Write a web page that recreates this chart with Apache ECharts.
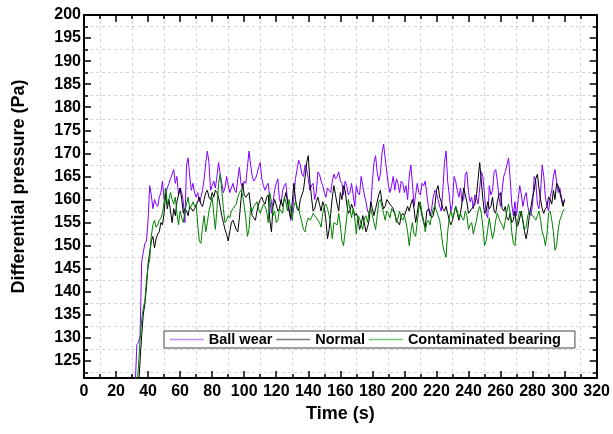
<!DOCTYPE html>
<html><head><meta charset="utf-8">
<script src="https://cdn.jsdelivr.net/npm/echarts@6/dist/echarts.min.js"></script>
<style>html,body{margin:0;padding:0;background:#fff}#c{width:613px;height:434px}</style>
</head><body><div id="c"></div>
<script>
// Sampling of the series (seconds)
const startTime = 30;
const timeStep = 1;

// Differential pressure (Pa), one value per second from t = 30 s to 300 s
const ballWear = [
110,115,120,128.5,129,130.5,146.5,148.5,150.5,151,
155.5,163,161,158,160,159,158.5,160.5,161.5,164,
160,161,162.5,163.5,164.5,165.5,166.5,163.5,165,161,
162.5,161.5,159.5,155,167.5,169,165,162,163.5,161.5,
160.5,161.5,159.5,160.5,162,164.5,168,170.5,168,162,
163,164,162.5,165,168,165.5,163.5,161.5,162.5,165,
163,161.5,162.5,163.5,162,161.5,164.5,167,163.5,162.5,
164,163.5,167,170.5,167.5,165,164,164.5,165.5,167,
168,164.5,163,162,163,163.5,160,157,159.5,162,
163.5,164.5,160,159,162,163,163.5,160,158,155.5,
157,160.5,164.5,166.5,168.5,167.5,165.5,165,167.5,166.5,
164.5,162,163,163.5,160,161.5,166,165.5,164,163,
161.5,160.5,162.5,162,161.5,164,165.5,164.5,165,166,
164,163.5,161,164,163,161,161.5,163.5,161,158.5,
163,161.5,161,165,163,161,159.5,157.5,157,158.5,
164,168,169.5,166,164,165.5,170,172,169,166,
163,161.5,163,165,162,164.5,163.5,161.5,164,163.5,
161.5,163,160,165,167.5,163.5,158.5,161,163.5,161.5,
161,163.5,163,164,161,158.5,156.5,158,160.5,162,
161.5,160,158.5,157.5,162,168,170.5,164,161,157.5,
159,165,164,162,160.5,162.5,159.5,160,165.5,166,
161.5,159.5,160.5,158,161,160.5,159,162.5,166,165,
161,157,156,163,161,162,166,166.5,164,160.5,
158.5,162,165,166,167.5,169,164.5,159,156.5,159.5,
156.5,160,163,161,158.5,160.5,161.5,158.5,157,156.5,
159,165,164,159,158,161.5,167.5,165,160.5,158.5,
157.5,160.5,162,165,166.5,164,161.5,162.5,160.5,159,
160
];
const normal = [
100,105,110,115,119,125,130.5,135,137.5,141,
146,148.5,151,152,149.5,151.5,152.5,153,155,154.5,
157,161.5,158,160,157.5,155,158,156.5,159.5,161,
162.5,160,157,158,157.5,156.5,158.5,158.5,157.5,158,
158,159.5,160.5,159,158.5,160,161.5,162,160.5,160,
161.5,160.5,162,161.5,160.5,158.5,156.5,155,153.5,152.5,
151,153,155,155.5,154.5,153.5,153,156,160,163.5,
161,160.5,161,161.5,158.5,156.5,156,155.5,157.5,159,
160,160.5,159.5,159,160.5,161,155.5,153,158.5,160,
160,157.5,158,160,158.5,160,161.5,159.5,157.5,156,
159.5,163.5,160,158,157.5,160,161,162,165,168,
169.5,164,160.5,157.5,158,159.5,160.5,159,157.5,159.5,
158.5,155.5,151.5,153.5,157,160.5,163,161,159,157.5,
161.5,160,163,162,159,157,157.5,159,158,156.5,
157,156,153.5,154.5,156.5,155,153,154,155.5,159.5,
158,156.5,158,159.5,161,162,159.5,158,158.5,160,
159.5,159,158.5,158,157,155.5,155,154.5,156.5,157,
156.5,157.5,158.5,157.5,159,160,158,155,157,159.5,
158.5,156.5,155,154,157.5,158,157,156,156.5,158.5,
162,163,160.5,159.5,158,157.5,158.5,157,155.5,154.5,
155.5,157,158.5,157,155.5,157,159.5,162.5,161,159.5,
157,157.5,158,158.5,159,161,164.5,168,164,160,
157,157.5,159.5,158,158.5,160.5,157.5,157,159.5,161,
161.5,158,157.5,158.5,156,155.5,157,155,155.5,157.5,
154,154.5,156,157.5,155,153,151.5,153.5,156.5,158.5,
160.5,162,164.5,165.5,162.5,160,158,157,158,158.5,
160.5,160,159,162,160,163.5,163,161.5,160,158.5,
160
];
const contaminated = [
100,108,114,119,124,129.5,134,136.5,138,142.5,
145.5,147,152,154.5,155.5,154,154.5,155.5,156,157,
159.5,162.5,159,160,161.5,160,159,160.5,157,154.5,
157.5,156,155,157.5,159,160.5,158,158.5,159.5,158.5,
159,154.5,151,150.5,154,156.5,153,155,157.5,159,
160.5,157,153.5,158,163.5,165.5,162,158,155,155.5,
156.5,156,157.5,158,158,159,160.5,161.5,162,161,
158.5,156,152,153.5,158.5,157.5,158.5,159,159.5,158,
157,158,159,158.5,157.5,155,161.5,159.5,156.5,157.5,
155,155.5,158,157.5,157,160.5,159.5,157.5,160,158,
155.5,158.5,159.5,158.5,158,156.5,155,153.5,153,155,
156,155.5,156,157,156.5,156,155.5,155,154,157,
158.5,159,158,156.5,154.5,151.5,155,155,154.5,157,
154.5,151,150,153,156,160,158,156,158,156,
152.5,156.5,156,154.5,153.5,156,156.5,155,157.5,158,
156.5,155,153.5,156.5,159.5,160,158.5,157,155.5,157.5,
157,156,158,158,157,155,156,157.5,156,155.5,
156.5,155,153,150,153,155,152.5,152,155,158,
159.5,157,155.5,153,155,155.5,154.5,156.5,158,158.5,
157.5,156.5,155.5,153,150,148.5,147.5,153,156,157.5,
156,157,158.5,157.5,156,157,156,155.5,157.5,156.5,
153.5,154.5,155,152.5,154,155.5,157.5,158.5,157,154,
150,151,153.5,156,153.5,151.5,153,155.5,157,156,
155,154.5,153.5,155.5,157.5,159,157,153,150.5,150,
154,156,157.5,157,155.5,153.5,154,156.5,157.5,157,
156.5,156,155.5,156.5,157.5,155.5,153,152,150,152.5,
157,157.5,155.5,153,149,150,153.5,155.5,156.5,157.5,
158
];

const seriesNames = ['Ball wear', 'Normal', 'Contaminated bearing'];
const seriesValues = [ballWear, normal, contaminated];
const seriesColors = ['#8000ff', '#000000', '#008000'];
const legendColors = ['#c48cff', '#7a7a7a', '#7cc47c'];

// Axis ranges and ticks
const xMin = 0, xMax = 320, xStep = 20;
const yMin = 121.3, yMax = 200;
const yMajorTicks = [125,130,135,140,145,150,155,160,165,170,175,180,185,190,195,200];
const yMinorTicks = [122.5,127.5,132.5,137.5,142.5,147.5,152.5,157.5,162.5,167.5,172.5,177.5,182.5,187.5,192.5,197.5];

const FONT = "'Liberation Sans', Arial, sans-serif";
const axisLineStyle = { color: '#000', width: 2 };
const tickLineStyle = { color: '#000', width: 1.5 };
const gridLineStyle = { color: '#d4d4d4', type: [3, 3], width: 1 };
const labelStyle = { fontFamily: FONT, fontWeight: 'bold', fontSize: 16, color: '#000' };

function toPairs(values) {
  return values.map((v, i) => [startTime + i * timeStep, v]);
}

const chart = echarts.init(document.getElementById('c'), null, { renderer: 'canvas' });

function xAxisDef(pos, withLabels) {
  return {
    type: 'value', position: pos, min: xMin, max: xMax, interval: xStep,
    axisLine: { show: true, onZero: false, lineStyle: axisLineStyle },
    axisTick: { show: true, inside: true, length: 7, lineStyle: tickLineStyle },
    minorTick: { show: true, splitNumber: 2, length: 4, lineStyle: tickLineStyle },
    minorSplitLine: { show: withLabels, lineStyle: gridLineStyle },
    splitLine: { show: false },
    axisLabel: Object.assign({ show: withLabels, margin: 6, showMinLabel: true, showMaxLabel: true, hideOverlap: false }, labelStyle),
    name: withLabels ? 'Time (s)' : '',
    nameLocation: 'middle', nameGap: 23,
    nameTextStyle: { fontFamily: FONT, fontWeight: 'bold', fontSize: 18, color: '#000' }
  };
}

function yAxisDef(pos, ticks, tickLen, showLine, showLabels, showGrid, name) {
  return {
    type: 'value', position: pos, min: yMin, max: yMax,
    axisLine: { show: showLine, onZero: false, lineStyle: axisLineStyle },
    axisTick: { show: true, inside: true, length: tickLen, customValues: ticks, lineStyle: tickLineStyle },
    axisLabel: Object.assign({ show: showLabels, margin: 3, customValues: ticks, hideOverlap: false }, labelStyle),
    splitLine: { show: showGrid, lineStyle: gridLineStyle },
    name: name || '',
    nameLocation: 'middle', nameGap: 56, nameRotate: 90,
    nameTextStyle: { fontFamily: FONT, fontWeight: 'bold', fontSize: 18, color: '#000', padding: [0, 0, 0, 20] }
  };
}

const option = {
  animation: false,
  backgroundColor: '#fff',
  grid: { left: 84, right: 9, top: 15, bottom: 56 },
  xAxis: [xAxisDef('bottom', true), xAxisDef('top', false)],
  yAxis: [
    yAxisDef('left', yMajorTicks, 7, true, true, false, 'Differential pressure (Pa)'),
    yAxisDef('left', yMinorTicks, 4, false, false, true),
    yAxisDef('right', yMajorTicks, 7, true, false, false),
    yAxisDef('right', yMinorTicks, 4, false, false, false)
  ],
  legend: {
    show: true,
    left: 164, top: 331,
    orient: 'horizontal',
    itemWidth: 34, itemHeight: 12, itemGap: 3,
    padding: [1, 14, 1, 5],
    borderColor: '#444', borderWidth: 1,
    backgroundColor: '#fff',
    textStyle: { fontFamily: FONT, fontWeight: 'bold', fontSize: 14.5, color: '#000' },
    data: seriesNames.map((n, i) => ({
      name: n,
      lineStyle: { color: legendColors[i], width: 1.5 },
      itemStyle: { color: 'rgba(0,0,0,0)', borderWidth: 0, opacity: 0 }
    }))
  },
  series: seriesNames.map((n, i) => ({
    name: n, type: 'line',
    xAxisIndex: 0, yAxisIndex: 0,
    data: toPairs(seriesValues[i]),
    symbol: 'none', showSymbol: false,
    clip: true,
    lineStyle: { color: seriesColors[i], width: 1 },
    itemStyle: { color: seriesColors[i] },
    z: 2 + i
  }))
};
chart.setOption(option);
</script></body></html>
